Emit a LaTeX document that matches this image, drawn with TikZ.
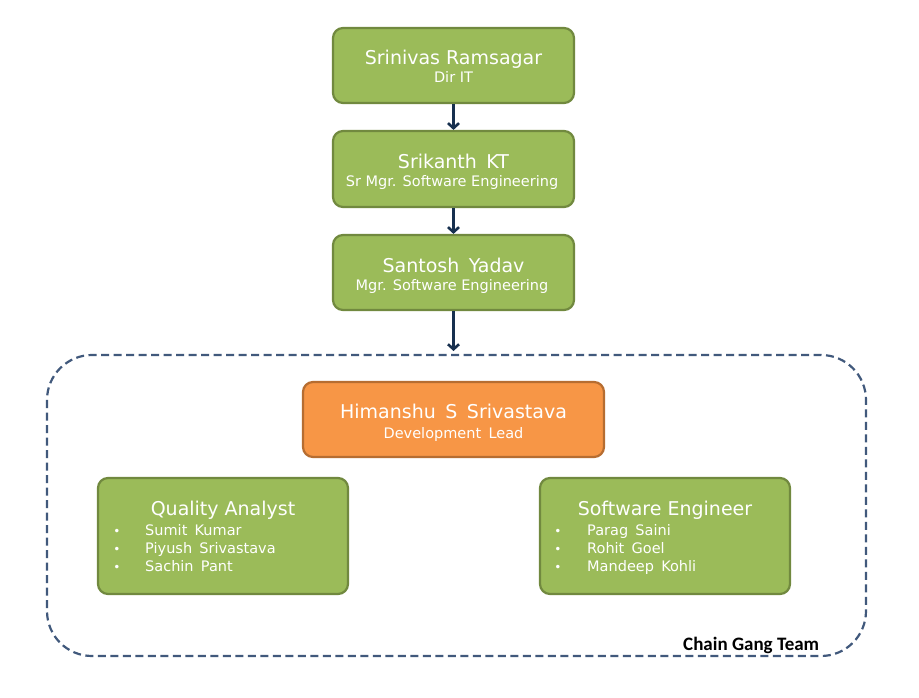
\documentclass[tikz,border=0pt]{standalone}
\usepackage{fontspec}
\setmainfont{DejaVu Sans}
\newfontfamily\calfont{Carlito}
\usetikzlibrary{arrows.meta}
\definecolor{gfill}{HTML}{9BBB59}
\definecolor{gline}{HTML}{71893F}
\definecolor{ofill}{HTML}{F79646}
\definecolor{oline}{HTML}{B66D31}
\definecolor{navy}{HTML}{17304F}
\definecolor{dashc}{HTML}{41597C}
\newcommand{\wsp}{\hspace{0.5em}}
\tikzset{
  gbox/.style={draw=gline, fill=gfill, line width=2.2pt, rounded corners=10pt, text=white, align=center, inner sep=0pt},
  obox/.style={draw=oline, fill=ofill, line width=2.2pt, rounded corners=10pt, text=white, align=center, inner sep=0pt},
  conn/.style={draw=navy, line width=2.6pt, -{Straight Barb[length=5pt,width=11pt,line width=2.6pt]}},
  teamrect/.style={draw=dashc, line width=2.2pt, dash pattern=on 8pt off 4.5pt, rounded corners=45pt},
  txt/.style={text=white, anchor=base, inner sep=0pt},
  nm/.style={txt, font=\fontsize{19}{21}\selectfont},
  sub/.style={txt, font=\fontsize{14.5}{16}\selectfont},
  li/.style={text=white, anchor=base west, inner sep=0pt, font=\fontsize{14.5}{16}\selectfont},
  bul/.style={text=white, anchor=base, inner sep=0pt, font=\fontsize{12}{13}\selectfont}
}
\begin{document}
\begin{tikzpicture}[x=1pt,y=-1pt]
\useasboundingbox (0,0) rectangle (919,698);
\fill[white] (0,0) rectangle (919,698);
\draw[teamrect] (47,355) rectangle (866,656);
\node[gbox, minimum width=241pt, minimum height=75pt] (b1) at (453.5,65.5) {};
\node[gbox, minimum width=241pt, minimum height=76pt] (b2) at (453.5,169) {};
\node[gbox, minimum width=241pt, minimum height=75pt] (b3) at (453.5,272.5) {};
\node[obox, minimum width=301pt, minimum height=75pt] (b4) at (453.5,419.5) {};
\node[gbox, minimum width=250pt, minimum height=116pt] (qa) at (223,536) {};
\node[gbox, minimum width=250pt, minimum height=116pt] (se) at (665,536) {};
\coordinate (team) at (453.5,351);
% texts
\node[nm] (t1) at (453.5,65) {Srinivas Ramsagar};
\node[sub] (s1) at (453.5,83) {Dir IT};
\node[nm] (t2) at (453.5,168) {Srikanth\wsp KT};
\node[sub] (s2) at (452,186) {Sr Mgr. Software Engineering};
\node[nm] (t3) at (453.5,272) {Santosh\wsp Yadav};
\node[sub] (s3) at (452,290) {Mgr. Software Engineering};
\node[nm] (t4) at (453.5,418) {Himanshu\wsp S\wsp Srivastava};
\node[sub] (s4) at (453.5,438) {Development\wsp Lead};
\node[nm] (t5) at (223,515) {Quality Analyst};
\node[nm] (t6) at (665,515) {Software Engineer};
\foreach \i/\txt [count=\k] in {0/Sumit\wsp Kumar,1/Piyush\wsp Srivastava,2/Sachin\wsp Pant}{
  \node[bul] (qb\k) at (117,535+18*\i) {•};
  \node[li] (ql\k) at (145,535+18*\i) {\txt};
}
\foreach \i/\txt [count=\k] in {0/Parag\wsp Saini,1/Rohit\wsp Goel,2/Mandeep\wsp Kohli}{
  \node[bul] (sb\k) at (558,535+18*\i) {•};
  \node[li] (sl\k) at (587,535+18*\i) {\txt};
}
\node[font=\calfont\bfseries\fontsize{19}{21}\selectfont, anchor=base west, inner sep=0pt] (lbl) at (683,650) {Chain\ Gang\ Team};
% connectors
\draw[conn] (b1.south) -- (b2.north);
\draw[conn] (b2.south) -- (b3.north);
\draw[conn] (b3.south) -- (team);
\end{tikzpicture}
\end{document}
